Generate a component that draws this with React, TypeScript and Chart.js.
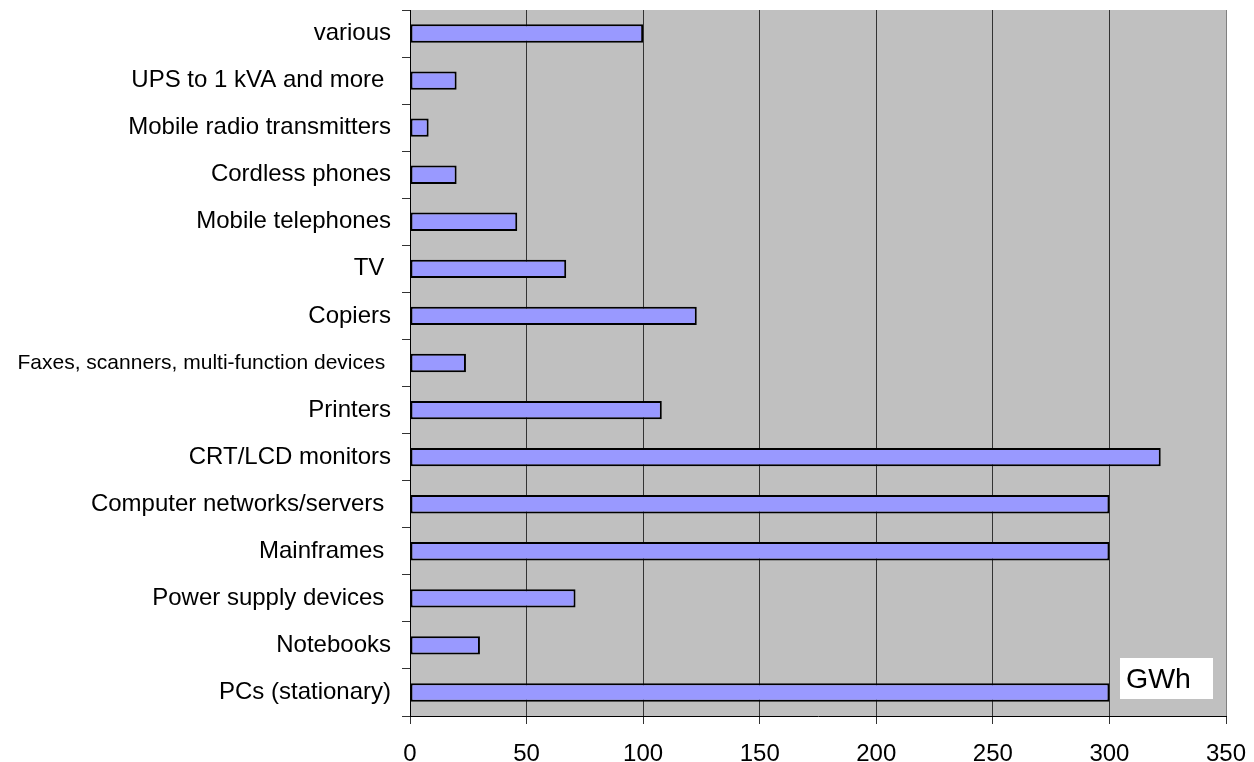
import React, { useEffect, useRef } from "react";
import { Chart, registerables } from "chart.js";

Chart.register(...registerables);

// Electricity consumption by device group, bottom to top as drawn
const categories: string[] = [
  "PCs (stationary)",
  "Notebooks",
  "Power supply devices ",
  "Mainframes ",
  "Computer networks/servers ",
  "CRT/LCD monitors",
  "Printers",
  "Faxes, scanners, multi-function devices ",
  "Copiers",
  "TV ",
  "Mobile telephones",
  "Cordless phones",
  "Mobile radio transmitters",
  "UPS to 1 kVA and more ",
  "various",
];

const consumptionGWh: number[] = [300, 30, 71, 300, 300, 322, 108, 24, 123, 67, 46, 20, 8, 20, 100];

const xTicks: number[] = [0, 50, 100, 150, 200, 250, 300, 350];

const unitLabel = "GWh";

const FONT = "'Liberation Sans', Arial, sans-serif";
const SMALL_LABEL_INDEX = categories.findIndex((c) => c.startsWith("Faxes"));

const plotBackground = {
  id: "plotBackground",
  beforeDraw(chart: any) {
    const { ctx, chartArea } = chart;
    const { left, top, right, bottom } = chartArea;
    ctx.save();
    ctx.fillStyle = "#C0C0C0";
    ctx.fillRect(left, top, right - left, bottom - top);
    ctx.restore();
  },
};

const unitBox = {
  id: "unitBox",
  afterDraw(chart: any) {
    const { ctx, chartArea } = chart;
    const { right, bottom } = chartArea;
    ctx.save();
    ctx.fillStyle = "#FFFFFF";
    ctx.fillRect(right - 106, bottom - 58, 93, 41);
    ctx.fillStyle = "#000000";
    ctx.font = `28.5px ${FONT}`;
    ctx.textAlign = "left";
    ctx.textBaseline = "alphabetic";
    ctx.fillText(unitLabel, right - 100, bottom - 28);
    ctx.restore();
  },
};

export default function App() {
  const canvasRef = useRef<HTMLCanvasElement | null>(null);

  useEffect(() => {
    const canvas = canvasRef.current;
    if (!canvas) return;
    const chart = new Chart(canvas, {
      type: "bar",
      data: {
        labels: categories,
        datasets: [
          {
            data: consumptionGWh,
            backgroundColor: "#9999FF",
            borderColor: "#000000",
            borderWidth: 2,
            borderSkipped: false,
            barPercentage: 0.39,
            categoryPercentage: 1,
          },
        ],
      },
      options: {
        indexAxis: "y",
        responsive: false,
        animation: false,
        layout: { padding: { top: 10, right: 28, left: 0, bottom: 0 } },
        plugins: {
          legend: { display: false },
          tooltip: { enabled: false },
        },
        scales: {
          x: {
            type: "linear",
            min: 0,
            max: 350,
            afterBuildTicks: (scale: any) => {
              scale.ticks = xTicks.map((v) => ({ value: v }));
            },
            afterFit: (scale: any) => {
              scale.height = 46;
              scale.paddingLeft = 0;
              scale.paddingRight = 0;
            },
            border: { display: true, color: "#000000", width: 1 },
            grid: {
              color: (ctx: any) =>
                ctx.tick && ctx.tick.value === 350 ? "#808080" : "#333333",
              tickColor: "#333333",
              tickLength: 8,
              lineWidth: 1,
            },
            ticks: {
              color: "#000000",
              padding: 16,
              maxRotation: 0,
              font: { family: FONT, size: 24 },
            },
          },
          y: {
            type: "category",
            reverse: true,
            offset: true,
            afterFit: (scale: any) => {
              scale.width = 410;
              scale.paddingTop = 0;
              scale.paddingBottom = 0;
            },
            border: { display: true, color: "#000000", width: 1 },
            grid: {
              offset: true,
              drawOnChartArea: false,
              drawTicks: true,
              tickLength: 8,
              tickColor: "#333333",
            },
            ticks: {
              color: "#000000",
              padding: 11,
              autoSkip: false,
              font: (ctx: any) => ({
                family: FONT,
                size: ctx.index === SMALL_LABEL_INDEX ? 21 : 24,
              }),
            },
          },
        },
      },
      plugins: [plotBackground, unitBox],
    });
    return () => chart.destroy();
  }, []);

  return (
    <div
      style={{
        position: "fixed",
        left: 0,
        top: 0,
        width: 1254,
        height: 762,
        background: "#FFFFFF",
      }}
    >
      <canvas ref={canvasRef} width={1254} height={762} />
    </div>
  );
}
